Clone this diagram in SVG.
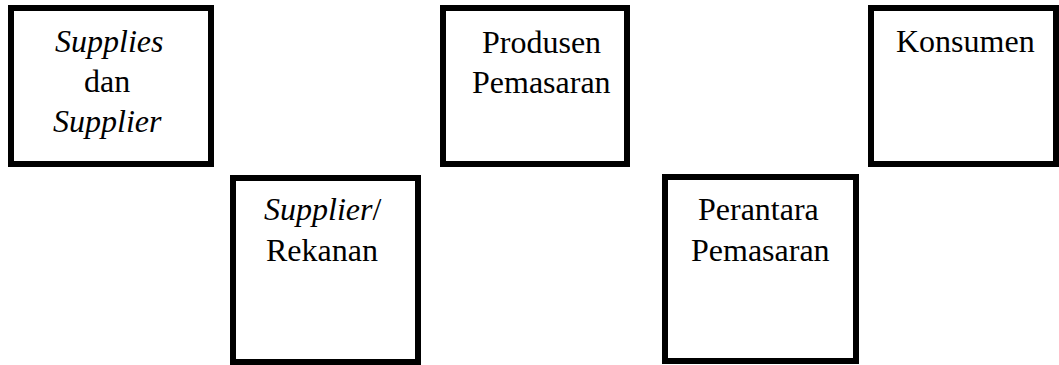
<svg xmlns="http://www.w3.org/2000/svg" width="1059" height="365" viewBox="0 0 1059 365">
  <defs>
    <!-- shared box outline -->
    <rect id="frame-tall" width="185" height="184" fill="#ffffff" stroke="#000000" stroke-width="6"/>
  </defs>
  <rect x="0" y="0" width="1059" height="365" fill="#ffffff"/>

  <g font-family="'Liberation Serif', 'Times New Roman', serif" font-size="32" fill="#000000">
    <g id="supplies-supplier">
      <rect x="11" y="8" width="200" height="156" fill="#ffffff" stroke="#000000" stroke-width="6"/>
      <text x="55" y="52" font-style="italic">Supplies</text>
      <text x="84" y="92">dan</text>
      <text x="53" y="132" font-style="italic">Supplier</text>
    </g>

    <g id="supplier-rekanan">
      <use href="#frame-tall" x="233" y="178"/>
      <text x="264" y="220"><tspan font-style="italic">Supplier</tspan>/</text>
      <text x="266" y="261">Rekanan</text>
    </g>

    <g id="produsen-pemasaran">
      <rect x="443" y="8" width="184" height="156" fill="#ffffff" stroke="#000000" stroke-width="6"/>
      <text x="482" y="53">Produsen</text>
      <text x="472" y="93">Pemasaran</text>
    </g>

    <g id="perantara-pemasaran">
      <rect x="665" y="177" width="191" height="184" fill="#ffffff" stroke="#000000" stroke-width="6"/>
      <text x="698" y="220">Perantara</text>
      <text x="691" y="261">Pemasaran</text>
    </g>

    <g id="konsumen">
      <rect x="871" y="8" width="185" height="156" fill="#ffffff" stroke="#000000" stroke-width="6"/>
      <text x="896" y="52">Konsumen</text>
    </g>
  </g>
</svg>
